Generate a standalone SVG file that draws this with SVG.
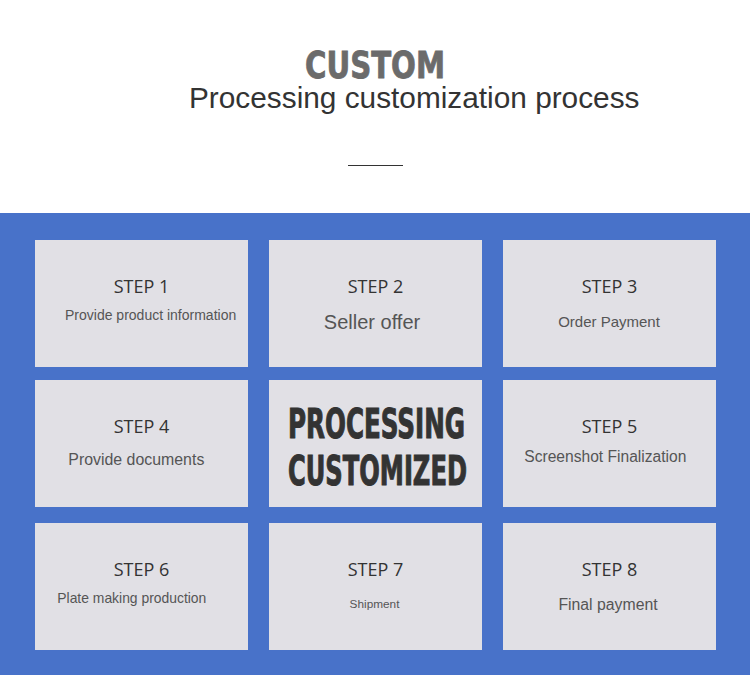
<svg xmlns="http://www.w3.org/2000/svg" width="750" height="681" viewBox="0 0 750 681">
<style>
.cell{fill:#e1e0e5}
.step{font-family:"Open Sans","Noto Sans","DejaVu Sans",sans-serif;font-size:18px;fill:#333;text-anchor:middle}
.desc{font-family:"Liberation Sans",Arial,sans-serif;fill:#555}
.big{font-family:"Liberation Sans Narrow","DejaVu Sans Condensed","Liberation Sans",sans-serif;font-weight:bold}
</style>
<rect x="0" y="0" width="750" height="681" fill="#ffffff"/>
<g id="header">
<text class="big" x="305" y="77.5" font-size="38" fill="#6b6b6b" stroke="#6b6b6b" stroke-width="0.8" textLength="140" lengthAdjust="spacingAndGlyphs">CUSTOM</text>
<text x="189" y="108" font-family="'Liberation Sans',Arial,sans-serif" font-size="29.8" fill="#333">Processing customization process</text>
<line x1="348" y1="165.5" x2="403" y2="165.5" stroke="#333" stroke-width="1"/>
</g>
<rect id="panel" x="0" y="213" width="750" height="462" fill="#4872c9"/>
<g id="step1">
<rect class="cell" x="35" y="240" width="213" height="127"/>
<text class="step" x="141.5" y="293.3">STEP 1</text>
<text class="desc" x="65" y="320" font-size="14">Provide product information</text>
</g>
<g id="step2">
<rect class="cell" x="269" y="240" width="213" height="127"/>
<text class="step" x="375.5" y="293.3">STEP 2</text>
<text class="desc" x="372" y="329" font-size="20" text-anchor="middle">Seller offer</text>
</g>
<g id="step3">
<rect class="cell" x="503" y="240" width="213" height="127"/>
<text class="step" x="609.5" y="293.3">STEP 3</text>
<text class="desc" x="609" y="326.7" font-size="15" text-anchor="middle">Order Payment</text>
</g>
<g id="step4">
<rect class="cell" x="35" y="380" width="213" height="127"/>
<text class="step" x="141.5" y="433.3">STEP 4</text>
<text class="desc" x="68.3" y="465" font-size="15.9">Provide documents</text>
</g>
<g id="center">
<rect class="cell" x="269" y="380" width="213" height="127"/>
<text class="big" x="288" y="438.3" font-size="40" fill="#333" stroke="#333" stroke-width="1" textLength="177" lengthAdjust="spacingAndGlyphs">PROCESSING</text>
<text class="big" x="288" y="485" font-size="40" fill="#333" stroke="#333" stroke-width="1" textLength="179" lengthAdjust="spacingAndGlyphs">CUSTOMIZED</text>
</g>
<g id="step5">
<rect class="cell" x="503" y="380" width="213" height="127"/>
<text class="step" x="609.5" y="433.3">STEP 5</text>
<text class="desc" x="524.3" y="461.7" font-size="15.6">Screenshot Finalization</text>
</g>
<g id="step6">
<rect class="cell" x="35" y="523" width="213" height="127"/>
<text class="step" x="141.5" y="576.3">STEP 6</text>
<text class="desc" x="57.3" y="602.7" font-size="13.9">Plate making production</text>
</g>
<g id="step7">
<rect class="cell" x="269" y="523" width="213" height="127"/>
<text class="step" x="375.5" y="576.3">STEP 7</text>
<text class="desc" x="374.5" y="608.3" font-size="11.8" text-anchor="middle">Shipment</text>
</g>
<g id="step8">
<rect class="cell" x="503" y="523" width="213" height="127"/>
<text class="step" x="609.5" y="576.3">STEP 8</text>
<text class="desc" x="608" y="610" font-size="15.8" text-anchor="middle">Final payment</text>
</g>
</svg>
